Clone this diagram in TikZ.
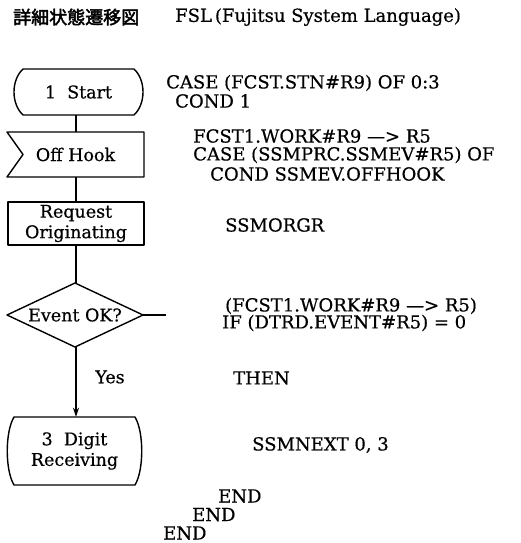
\documentclass[tikz,border=0pt]{standalone}
\usepackage{fontspec}
\setmainfont{DejaVu Serif}[FakeBold=0.5]
\newfontfamily\jpfont[AutoFakeBold=2.5]{Noto Sans CJK JP}
\usetikzlibrary{arrows.meta,calc}
\tikzset{
  outline/.style={line width=1.4pt, line join=round},
  conn/.style={line width=1.4pt},
  shapebox/.style={inner sep=0pt, align=center, font=\fontsize{17.5}{20.5}\selectfont},
  code/.style={anchor=west, inner sep=0pt, font=\fontsize{18}{20}\selectfont},
}
\begin{document}
\begin{tikzpicture}[x=1pt,y=-1pt]
\useasboundingbox (0,0) rectangle (520,543);
\fill[white] (0,0) rectangle (520,543);
% title
\node[anchor=west, inner sep=0pt, font=\jpfont\bfseries\fontsize{18}{20}\selectfont] (jp) at (13,17) {詳細状態遷移図};
\node[anchor=west, inner sep=0pt, font=\fontsize{18}{20}\selectfont] (fsl) at (175,17) {FSL\,(Fujitsu System Language)};
% flowchart nodes
\coordinate (col) at (76,0);
\node[shapebox, minimum width=129pt, minimum height=46pt] (start) at (78.5,92) {1\ \ Start};
\node[shapebox, minimum width=137pt, minimum height=45pt] (hook) at (75.5,154.5) {Off Hook};
\node[shapebox, minimum width=136pt, minimum height=43pt] (req) at (76,223.5) {Request\\Originating};
\node[shapebox, minimum width=136pt, minimum height=64pt] (diam) at (75,315) {Event OK?};
\node[shapebox, minimum width=135pt, minimum height=68pt] (digit) at (74.5,451) {3\ \ Digit\\Receiving};
\node[shapebox] (yes) at (110,377) {Yes};
\coordinate (rend) at (166,315);
% outlines
\draw[outline] (23,69) -- (134,69) .. controls (146,80) and (146,104) .. (134,115) -- (23,115) .. controls (11,104) and (11,80) .. (23,69) -- cycle;
\draw[outline] (7,132) -- (144,132) -- (144,177) -- (7,177) -- (23,154.5) -- cycle;
\draw[outline] (8,202) rectangle (144,245);
\draw[outline] (7,315) -- (75,283) -- (143,315) -- (75,347) -- cycle;
\draw[outline] (14,417) -- (135,417) .. controls (144,432) and (144,470) .. (135,485) -- (14,485) .. controls (5,470) and (5,432) .. (14,417) -- cycle;
% connectors
\draw[conn] (start.south -| col) -- (hook.north -| col);
\draw[conn] (hook.south -| col) -- (req.north -| col);
\draw[conn] (req.south -| col) -- (diam.north -| col);
\draw[conn, -{Stealth[length=9pt,width=6pt]}] (diam.south -| col) -- (digit.north -| col);
\draw[conn] (diam.east) -- (rend);
% code
\node[code] (c1) at (166,83) {CASE (FCST.STN\#R9) OF 0:3};
\node[code] (c2) at (175,101) {COND 1};
\node[code] (c3) at (193,136) {FCST1.WORK\#R9 \textemdash{}> R5};
\node[code] (c4) at (193,155) {CASE (SSMPRC.SSMEV\#R5) OF};
\node[code] (c5) at (210,174) {COND SSMEV.OFFHOOK};
\node[code] (c6) at (225,225) {SSMORGR};
\node[code] (c7) at (225,306) {(FCST1.WORK\#R9 \textemdash{}> R5)};
\node[code] (c8) at (222,323) {IF (DTRD.EVENT\#R5) = 0};
\node[code] (c9) at (233,378) {THEN};
\node[code] (c10) at (252,445) {SSMNEXT 0, 3};
\node[code, anchor=base west] (c11) at (218,502.5) {END};
\node[code, anchor=base west] (c12) at (192,521) {END};
\node[code, anchor=base west] (c13) at (163,539.5) {END};
\end{tikzpicture}
\end{document}
